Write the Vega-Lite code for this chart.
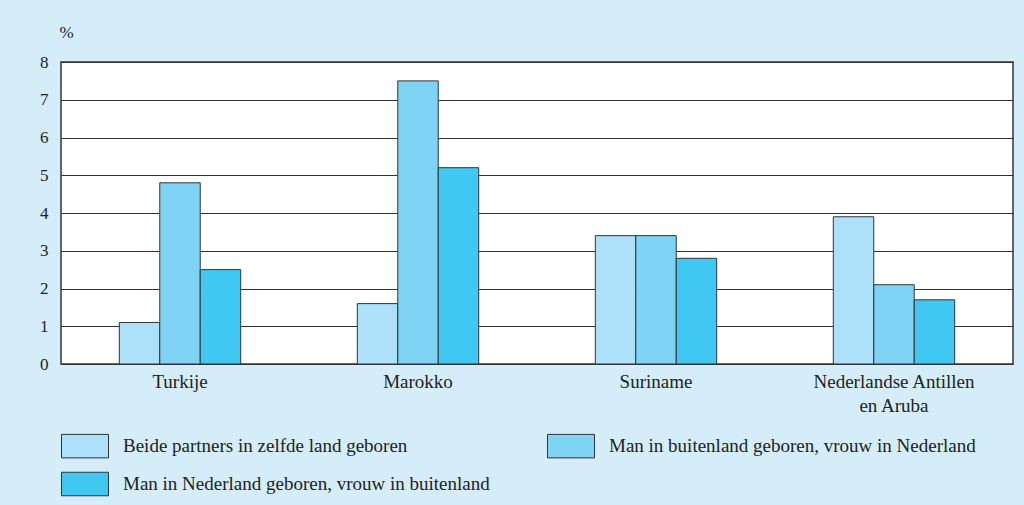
{
  "$schema": "https://vega.github.io/schema/vega-lite/v6.json",
  "autosize": {"type": "none"},
  "width": 952,
  "height": 302,
  "padding": {"left": 61, "top": 62, "right": 11, "bottom": 141},
  "background": "#d5edf9",
  "config": {
    "font": "Liberation Serif",
    "view": {"fill": "white", "stroke": "#333333", "strokeWidth": 1.5}
  },
  "data": {
    "values": [
      {"land": "Turkije", "groep": "Beide partners in zelfde land geboren", "pct": 1.1},
      {"land": "Turkije", "groep": "Man in buitenland geboren, vrouw in Nederland", "pct": 4.8},
      {"land": "Turkije", "groep": "Man in Nederland geboren, vrouw in buitenland", "pct": 2.5},
      {"land": "Marokko", "groep": "Beide partners in zelfde land geboren", "pct": 1.6},
      {"land": "Marokko", "groep": "Man in buitenland geboren, vrouw in Nederland", "pct": 7.5},
      {"land": "Marokko", "groep": "Man in Nederland geboren, vrouw in buitenland", "pct": 5.2},
      {"land": "Suriname", "groep": "Beide partners in zelfde land geboren", "pct": 3.4},
      {"land": "Suriname", "groep": "Man in buitenland geboren, vrouw in Nederland", "pct": 3.4},
      {"land": "Suriname", "groep": "Man in Nederland geboren, vrouw in buitenland", "pct": 2.8},
      {"land": "Nederlandse Antillen en Aruba", "groep": "Beide partners in zelfde land geboren", "pct": 3.9},
      {"land": "Nederlandse Antillen en Aruba", "groep": "Man in buitenland geboren, vrouw in Nederland", "pct": 2.1},
      {"land": "Nederlandse Antillen en Aruba", "groep": "Man in Nederland geboren, vrouw in buitenland", "pct": 1.7}
    ]
  },
  "mark": {"type": "bar", "stroke": "#333333", "strokeWidth": 1},
  "encoding": {
    "x": {
      "field": "land",
      "type": "nominal",
      "sort": ["Turkije", "Marokko", "Suriname", "Nederlandse Antillen en Aruba"],
      "scale": {"paddingInner": 0.49, "paddingOuter": 0.245},
      "axis": {
        "title": null,
        "labelAngle": 0,
        "ticks": false,
        "domain": false,
        "labelFontSize": 19,
        "labelColor": "#222222",
        "labelPadding": 8,
        "labelLimit": 400,
        "labelLineHeight": 24,
        "labelExpr": "datum.value == 'Nederlandse Antillen en Aruba' ? ['Nederlandse Antillen', 'en Aruba'] : datum.value"
      }
    },
    "xOffset": {
      "field": "groep",
      "type": "nominal",
      "sort": [
        "Beide partners in zelfde land geboren",
        "Man in buitenland geboren, vrouw in Nederland",
        "Man in Nederland geboren, vrouw in buitenland"
      ],
      "scale": {"paddingInner": 0, "paddingOuter": 0}
    },
    "y": {
      "field": "pct",
      "type": "quantitative",
      "scale": {"domain": [0, 8], "nice": false},
      "axis": {
        "values": [0, 1, 2, 3, 4, 5, 6, 7, 8],
        "grid": true,
        "gridColor": "#333333",
        "gridWidth": 1.2,
        "ticks": false,
        "domain": false,
        "labelFontSize": 17,
        "labelColor": "#222222",
        "labelPadding": 13,
        "title": "%",
        "titleAngle": 0,
        "titleX": 5,
        "titleY": -30,
        "titleAlign": "center",
        "titleBaseline": "middle",
        "titleFontWeight": "normal",
        "titleFontSize": 17,
        "titleColor": "#222222"
      }
    },
    "color": {
      "field": "groep",
      "type": "nominal",
      "scale": {
        "domain": [
          "Beide partners in zelfde land geboren",
          "Man in buitenland geboren, vrouw in Nederland",
          "Man in Nederland geboren, vrouw in buitenland"
        ],
        "range": ["#ade1f9", "#7fd4f5", "#41c8f2"]
      },
      "legend": {
        "title": null,
        "orient": "none",
        "legendX": 0,
        "legendY": 360,
        "direction": "horizontal",
        "columns": 2,
        "columnPadding": 55,
        "rowPadding": 0,
        "symbolType": "M-1,-0.5H1V0.5H-1Z",
        "symbolSize": 2209,
        "symbolStrokeColor": "#333333",
        "symbolStrokeWidth": 1,
        "symbolOpacity": 1,
        "labelFontSize": 19,
        "labelColor": "#222222",
        "labelOffset": 14,
        "labelLimit": 500
      }
    }
  }
}
